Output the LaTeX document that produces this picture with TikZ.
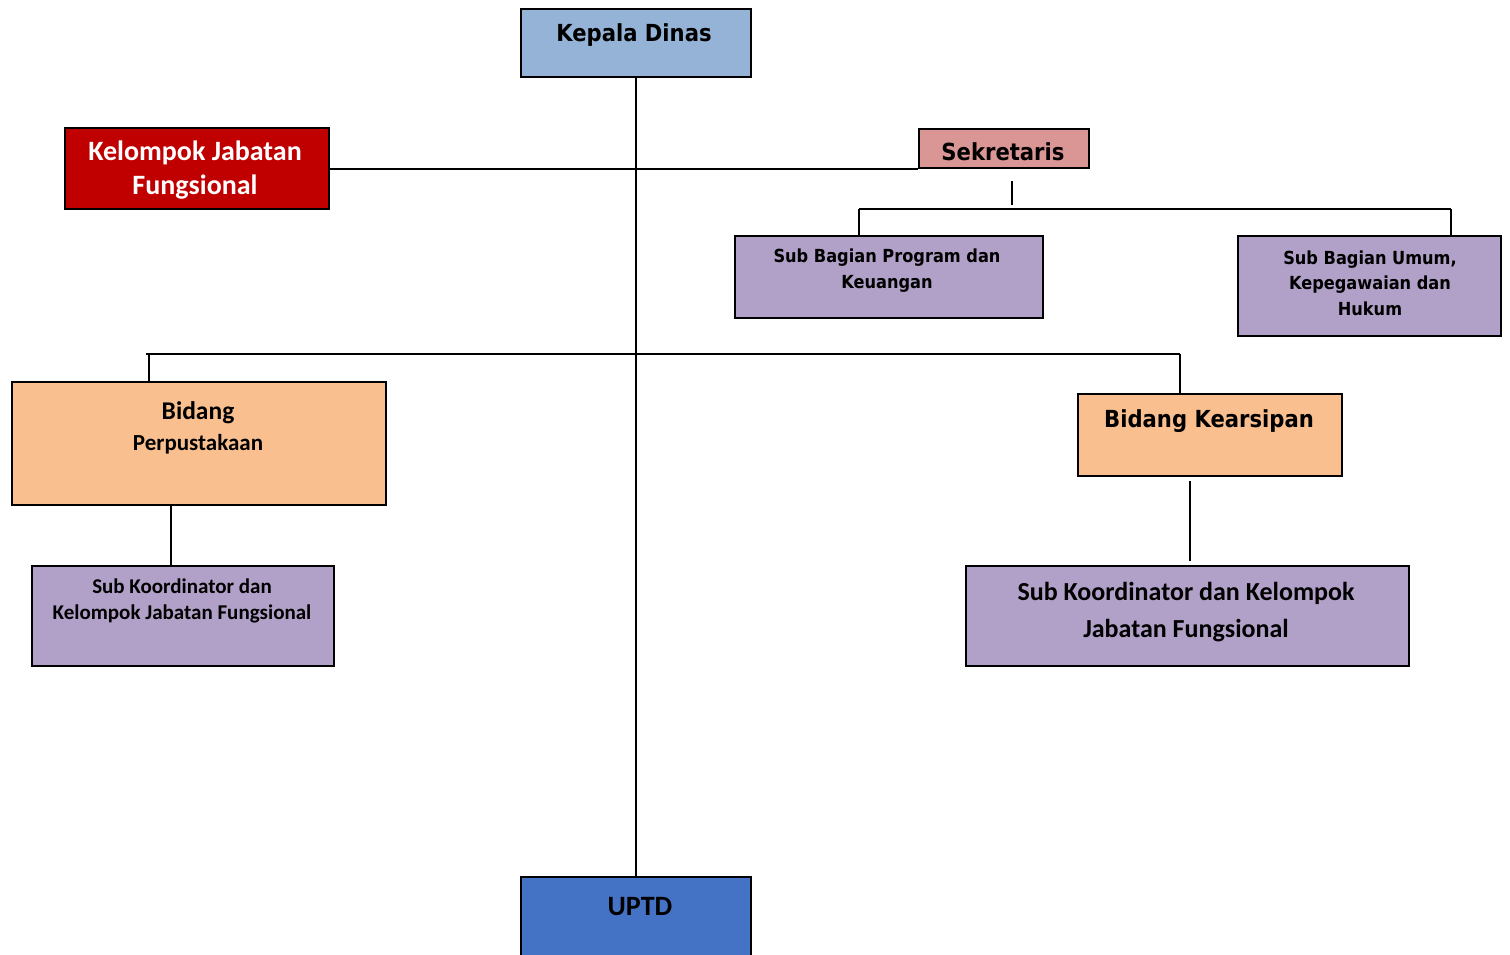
\documentclass[tikz,border=0pt]{standalone}
\usepackage{fontspec}
\setmainfont{Carlito}
\newfontfamily\tahoma{DejaVu Sans Condensed}
\definecolor{headblue}{HTML}{95B3D7}
\definecolor{fungred}{HTML}{C00000}
\definecolor{sekpink}{HTML}{DA9694}
\definecolor{subpurple}{HTML}{B1A0C7}
\definecolor{bidorange}{HTML}{F9BF8F}
\definecolor{uptdblue}{HTML}{4472C4}
\begin{document}
\begin{tikzpicture}[x=1pt, y=-1pt]
        \tikzstyle{unit}=[draw, line width=1.6pt, inner sep=0pt,
            anchor=north west]
        \tikzstyle{tbig}=[font=\tahoma\bfseries\fontsize{23.5}{28}\selectfont,
            align=center, inner sep=0pt]
        \tikzstyle{tsmall}=[font=\tahoma\bfseries\fontsize{18}{26}\selectfont,
            align=center, inner sep=0pt]
        \tikzstyle{cal}=[font=\bfseries, align=center, inner sep=0pt]
        \tikzstyle{link}=[line width=1.8pt]
        \useasboundingbox (0,0) rectangle (1510,954);

        % boxes
        \node[unit, fill=headblue, minimum width=230, minimum height=68] (kd) at (520,8) {};
        \node[unit, fill=fungred, minimum width=264, minimum height=81] (kjf) at (64,127) {};
        \node[unit, fill=sekpink, minimum width=170, minimum height=39] (sek) at (918,128) {};
        \node[unit, fill=subpurple, minimum width=308, minimum height=82] (sbp) at (734,235) {};
        \node[unit, fill=subpurple, minimum width=263, minimum height=100] (sbu) at (1237,235) {};
        \node[unit, fill=bidorange, minimum width=374, minimum height=123] (bp) at (11,381) {};
        \node[unit, fill=subpurple, minimum width=302, minimum height=100] (skl) at (31,565) {};
        \node[unit, fill=bidorange, minimum width=264, minimum height=82] (bk) at (1077,393) {};
        \node[unit, fill=subpurple, minimum width=443, minimum height=100] (skr) at (965,565) {};
        \node[unit, fill=uptdblue, minimum width=230, minimum height=90] (uptd) at (520,876) {};

        % texts
        \node[tbig] (kdT) at (634,35) {Kepala Dinas};
        \node[cal, text=white, font=\bfseries\fontsize{28}{34}\selectfont] (kjfT) at (195,170)
            {Kelompok Jabatan\\Fungsional};
        \node[tbig] (sekT) at (1003,152) {Sekretaris};
        \node[tsmall] (sbpT) at (887,271) {Sub Bagian Program dan\\Keuangan};
        \node[tsmall, font=\tahoma\bfseries\fontsize{18}{25.5}\selectfont] (sbuT) at (1370,283)
            {Sub Bagian Umum,\\Kepegawaian dan\\Hukum};
        \node[cal] (bpT) at (198,428)
            {{\fontsize{25.5}{30}\selectfont Bidang}\\[9pt]{\fontsize{23}{28}\selectfont Perpustakaan}};
        \node[cal, font=\bfseries\fontsize{21}{26}\selectfont] (sklT) at (182,601)
            {Sub Koordinator dan\\Kelompok Jabatan Fungsional};
        \node[tbig] (bkT) at (1209,421) {Bidang Kearsipan};
        \node[cal, font=\bfseries\fontsize{26}{37}\selectfont] (skrT) at (1186,612)
            {Sub Koordinator dan Kelompok\\Jabatan Fungsional};
        \node[cal, font=\bfseries\fontsize{28}{34}\selectfont] (uptdT) at (640,907) {UPTD};

        % bus points
        \coordinate (sekA) at (1012,181);
        \coordinate (sekB) at (1012,205);
        \coordinate (sbL) at (859,209);
        \coordinate (sbR) at (1451,209);
        \coordinate (bbL) at (146,354);
        \coordinate (bbLd) at (149,354);
        \coordinate (bbR) at (1180,354);
        \coordinate (bpX) at (171,0);
        \coordinate (bkA) at (1190,481);
        \coordinate (bkB) at (1190,561);

        \draw[link] (kd.south) to (uptd.north);
        \draw[link] (kjf.east |- sek.south west) to (sek.south west);
        \draw[link] (sekA) to (sekB);
        \draw[link] (sbL) to (sbR);
        \draw[link] (sbL) to (sbL |- sbp.north);
        \draw[link] (sbR) to (sbR |- sbu.north);
        \draw[link] (bbL) to (bbR);
        \draw[link] (bbLd) to (bbLd |- bp.north);
        \draw[link] (bbR) to (bbR |- bk.north);
        \draw[link] (bpX |- bp.south) to (bpX |- skl.north);
        \draw[link] (bkA) to (bkB);

    \end{tikzpicture}
\end{document}
